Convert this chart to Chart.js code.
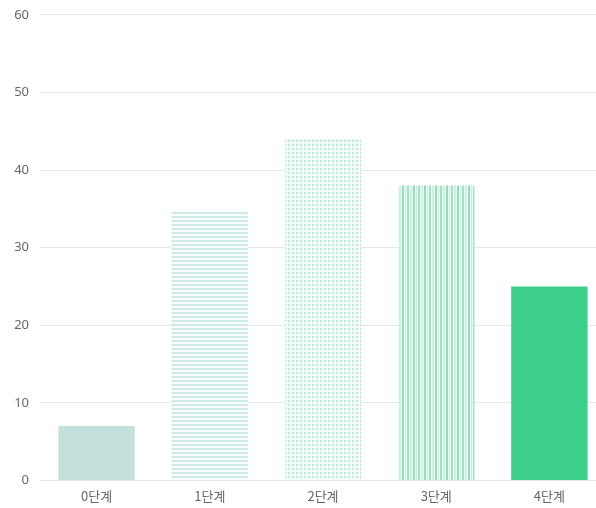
<!DOCTYPE html>
<html lang="ko">
<head>
  <meta charset="UTF-8">
  <title>단계별 분포</title>
  <style>
    html, body { margin: 0; padding: 0; background: #fff; overflow: hidden; }
    .wrap { position: absolute; left: 0; top: -4px; width: 606px; height: 516px; }
  </style>
</head>
<body>
  <div class="wrap"><canvas id="stageChart"></canvas></div>

  <script src="https://cdn.jsdelivr.net/npm/chart.js"></script>
  <script>
    // data
    const stages = ['0단계', '1단계', '2단계', '3단계', '4단계'];
    const counts = [7, 34.7, 44, 38, 25];
    const yTicks = [0, 10, 20, 30, 40, 50, 60];

    // fill patterns for each bar
    function makePattern(kind) {
      const c = document.createElement('canvas');
      const g = c.getContext('2d');
      if (kind === 'hlines') {
        c.width = 4; c.height = 4;
        g.fillStyle = '#f6fbfb'; g.fillRect(0, 0, 4, 4);
        g.fillStyle = '#d2eae8'; g.fillRect(0, 0, 4, 2);
      } else if (kind === 'dots') {
        c.width = 4; c.height = 4;
        g.fillStyle = '#f4fbf9'; g.fillRect(0, 0, 4, 4);
        g.fillStyle = '#e2f5ef'; g.fillRect(0, 0, 4, 1); g.fillRect(0, 0, 1, 4);
        g.fillStyle = '#c2eadf'; g.fillRect(0, 0, 2, 2);
      } else if (kind === 'vlines') {
        c.width = 11; c.height = 4;
        g.fillStyle = '#f2fbf7'; g.fillRect(0, 0, 11, 4);
        g.fillStyle = '#9fe2c4'; g.fillRect(0, 0, 2, 4);
        g.fillStyle = '#cdf0e0'; g.fillRect(3, 0, 2, 4);
        g.fillStyle = '#92ddbb'; g.fillRect(6, 0, 2, 4);
        g.fillStyle = '#c6eedc'; g.fillRect(9, 0, 1, 4);
      }
      return g.createPattern(c, 'repeat');
    }

    const fills = [
      '#c4e0dc',
      makePattern('hlines'),
      makePattern('dots'),
      makePattern('vlines'),
      '#3dd08c'
    ];

    const ctx = document.getElementById('stageChart').getContext('2d');
    new Chart(ctx, {
      type: 'bar',
      data: {
        labels: stages,
        datasets: [{
          data: counts,
          backgroundColor: fills,
          borderWidth: 0,
          barPercentage: 0.675,
          categoryPercentage: 1
        }]
      },
      options: {
        responsive: true,
        maintainAspectRatio: false,
        animation: false,
        layout: { padding: { top: 2, bottom: 0, left: 0, right: 0 } },
        plugins: { legend: { display: false }, tooltip: { enabled: false } },
        scales: {
          x: {
            grid: { display: false, drawTicks: false },
            border: { display: false },
            ticks: {
              color: '#666',
              padding: 8,
              font: { family: '"Noto Sans CJK KR", "Noto Sans", sans-serif', size: 13 }
            }
          },
          y: {
            min: 0,
            max: 60,
            afterBuildTicks: s => { s.ticks = yTicks.map(v => ({ value: v })); },
            afterFit: s => { s.width = 40; },
            grid: { color: '#e6e6e6', drawTicks: false },
            border: { display: false },
            ticks: {
              color: '#666',
              padding: 11,
              font: { family: '"Noto Sans", sans-serif', size: 13 }
            }
          }
        }
      }
    });
  </script>
</body>
</html>
